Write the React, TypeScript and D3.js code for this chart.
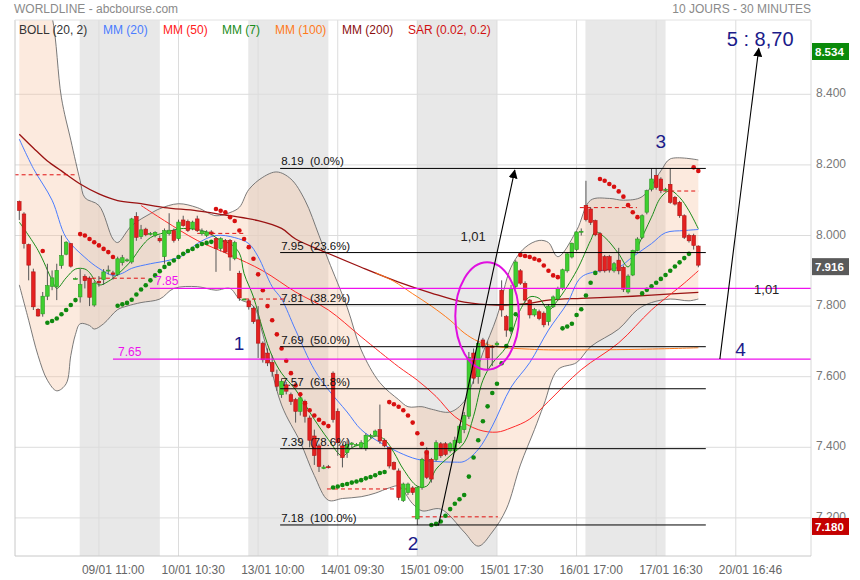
import React from "react";
import * as d3 from "d3";

// ---------- DATA ----------
// [open, high, low, close] for each 30-minute candle
const ohlc: number[][] = [
  [8.096, 8.099, 8.044, 8.071], [8.061, 8.066, 7.963, 7.977], [7.974, 7.977, 7.873, 7.916], [7.897, 7.906, 7.789, 7.798],
  [7.791, 7.794, 7.77, 7.772], [7.778, 7.84, 7.77, 7.828], [7.828, 7.92, 7.817, 7.858], [7.856, 7.901, 7.845, 7.88],
  [7.855, 7.92, 7.817, 7.901], [7.915, 8.0, 7.906, 7.943], [7.947, 7.984, 7.944, 7.981], [7.977, 7.978, 7.909, 7.913],
  [7.878, 7.881, 7.876, 7.878], [7.826, 7.905, 7.81, 7.861], [7.884, 7.89, 7.85, 7.872], [7.879, 7.884, 7.8, 7.825],
  [7.803, 7.87, 7.798, 7.865], [7.87, 7.885, 7.855, 7.866], [7.875, 7.905, 7.86, 7.897], [7.9, 7.915, 7.89, 7.902],
  [7.894, 7.9, 7.875, 7.89], [7.89, 7.94, 7.885, 7.934], [7.923, 7.945, 7.915, 7.937], [7.93, 7.935, 7.925, 7.931],
  [7.925, 8.05, 7.92, 8.047], [8.054, 8.066, 7.985, 7.995], [7.997, 8.03, 7.99, 8.016], [8.018, 8.022, 7.998, 8.002],
  [8.005, 8.01, 8.0, 8.006], [8.0, 8.012, 7.995, 8.009], [7.992, 8.0, 7.98, 7.985], [7.94, 8.02, 7.92, 8.014],
  [8.005, 8.063, 8.0, 8.015], [8.014, 8.02, 7.98, 7.986], [7.991, 8.045, 7.985, 8.038], [8.044, 8.056, 8.025, 8.028],
  [8.04, 8.045, 8.01, 8.014], [8.019, 8.042, 8.015, 8.038], [8.047, 8.056, 8.01, 8.014], [8.005, 8.02, 8.0, 8.012],
  [8.0, 8.015, 7.995, 8.01], [8.01, 8.015, 8.0, 8.004], [7.991, 7.995, 7.897, 7.963], [7.963, 7.995, 7.955, 7.991],
  [7.986, 7.99, 7.95, 7.953], [7.986, 7.99, 7.9, 7.939], [7.935, 7.985, 7.93, 7.98], [7.893, 7.9, 7.815, 7.823],
  [7.82, 7.822, 7.818, 7.82], [7.815, 7.82, 7.79, 7.798], [7.794, 7.8, 7.75, 7.756], [7.761, 7.8, 7.653, 7.695],
  [7.695, 7.7, 7.64, 7.648], [7.667, 7.68, 7.63, 7.639], [7.64, 7.66, 7.6, 7.615], [7.606, 7.62, 7.56, 7.573],
  [7.549, 7.595, 7.54, 7.587], [7.577, 7.585, 7.55, 7.559], [7.549, 7.555, 7.52, 7.53], [7.535, 7.54, 7.47, 7.502],
  [7.502, 7.545, 7.49, 7.54], [7.53, 7.535, 7.47, 7.488], [7.483, 7.49, 7.4, 7.42], [7.432, 7.45, 7.35, 7.377],
  [7.404, 7.41, 7.33, 7.346], [7.34, 7.35, 7.338, 7.344], [7.345, 7.35, 7.34, 7.343], [7.61, 7.615, 7.47, 7.479],
  [7.502, 7.51, 7.376, 7.413], [7.404, 7.41, 7.343, 7.371], [7.385, 7.42, 7.37, 7.408], [7.408, 7.415, 7.4, 7.412],
  [7.408, 7.412, 7.404, 7.408], [7.4, 7.42, 7.395, 7.413], [7.396, 7.44, 7.39, 7.434], [7.43, 7.438, 7.425, 7.434],
  [7.434, 7.45, 7.43, 7.446], [7.45, 7.521, 7.41, 7.418], [7.42, 7.425, 7.4, 7.404], [7.399, 7.4, 7.34, 7.347],
  [7.357, 7.36, 7.335, 7.338], [7.333, 7.34, 7.25, 7.258], [7.249, 7.3, 7.245, 7.296], [7.272, 7.3, 7.265, 7.296],
  [7.285, 7.29, 7.265, 7.272], [7.197, 7.29, 7.18, 7.286], [7.286, 7.37, 7.28, 7.366], [7.39, 7.4, 7.31, 7.315],
  [7.366, 7.37, 7.3, 7.31], [7.366, 7.42, 7.36, 7.413], [7.41, 7.415, 7.37, 7.376], [7.41, 7.415, 7.375, 7.38],
  [7.39, 7.415, 7.385, 7.41], [7.39, 7.43, 7.385, 7.42], [7.413, 7.465, 7.41, 7.46], [7.45, 7.5, 7.44, 7.49],
  [7.488, 7.67, 7.48, 7.655], [7.667, 7.68, 7.58, 7.596], [7.6, 7.7, 7.58, 7.694], [7.704, 7.71, 7.68, 7.686],
  [7.686, 7.7, 7.62, 7.653], [7.686, 7.69, 7.63, 7.684], [7.69, 7.7, 7.685, 7.695], [7.845, 7.873, 7.77, 7.789],
  [7.77, 7.775, 7.713, 7.732], [7.737, 7.86, 7.72, 7.85], [7.855, 7.93, 7.85, 7.925], [7.9, 7.905, 7.86, 7.865],
  [7.864, 7.87, 7.81, 7.817], [7.817, 7.82, 7.765, 7.775], [7.775, 7.795, 7.77, 7.79], [7.784, 7.79, 7.76, 7.765],
  [7.78, 7.785, 7.74, 7.747], [7.756, 7.805, 7.745, 7.8], [7.798, 7.83, 7.795, 7.826], [7.82, 7.855, 7.815, 7.85],
  [7.85, 7.906, 7.845, 7.903], [7.9, 7.95, 7.895, 7.948], [7.939, 7.98, 7.935, 7.978], [7.96, 8.012, 7.955, 8.01],
  [8.01, 8.02, 8.0, 8.012], [8.085, 8.155, 8.04, 8.045], [8.075, 8.08, 8.03, 8.037], [8.042, 8.045, 7.998, 8.002],
  [8.005, 8.01, 7.895, 7.9], [7.94, 7.945, 7.895, 7.9], [7.94, 7.945, 7.895, 7.902], [7.9, 7.925, 7.895, 7.92],
  [7.93, 7.965, 7.89, 7.9], [7.91, 7.915, 7.84, 7.848], [7.84, 7.89, 7.835, 7.885], [7.888, 7.96, 7.885, 7.958],
  [7.958, 7.995, 7.955, 7.99], [7.995, 8.06, 7.99, 8.056], [8.066, 8.13, 8.06, 8.127], [8.131, 8.19, 8.125, 8.16],
  [8.17, 8.19, 8.13, 8.136], [8.16, 8.165, 8.12, 8.127], [8.13, 8.135, 8.125, 8.131], [8.145, 8.19, 8.09, 8.094],
  [8.108, 8.112, 8.085, 8.089], [8.094, 8.098, 8.05, 8.056], [8.056, 8.06, 7.99, 7.995], [8.0, 8.005, 7.98, 7.985],
  [8.0, 8.005, 7.96, 7.972], [7.97, 7.972, 7.91, 7.916],
];

// indicator readings: [candle index, value]
const bollUpper: number[][] = [
  [0, 8.85], [4, 8.75], [7, 8.62], [9, 8.39], [11, 8.27], [13, 8.155], [14, 8.107], [17, 8.085], [20, 7.99], [21, 7.98],
  [24, 8.028], [28, 8.062], [30, 8.076], [34, 8.09], [38, 8.079], [42, 8.056], [45, 8.065], [47, 8.08], [49, 8.13],
  [52, 8.165], [55, 8.18], [58, 8.16], [61, 8.1], [64, 8.0], [66, 7.93], [70, 7.797], [73, 7.676], [77, 7.583],
  [81, 7.535], [83, 7.515], [86, 7.515], [88, 7.508], [92, 7.5], [95, 7.53], [97, 7.59], [99, 7.668], [102, 7.77],
  [105, 7.91], [108, 7.966], [111, 7.986], [113, 7.98], [115, 7.94], [119, 8.014], [122, 8.1], [126, 8.105],
  [129, 8.1], [133, 8.11], [137, 8.183], [139, 8.217], [145, 8.214],
];
const bollLower: number[][] = [
  [0, 7.86], [2, 7.76], [4, 7.66], [6, 7.59], [8, 7.56], [10, 7.58], [11, 7.66], [12, 7.72], [13, 7.75], [15, 7.745],
  [16, 7.735], [18, 7.75], [21, 7.79], [23, 7.8], [26, 7.81], [30, 7.82], [33, 7.85], [38, 7.855], [42, 7.845],
  [45, 7.85], [47, 7.82], [50, 7.8], [52, 7.72], [56, 7.52], [60, 7.415], [63, 7.32], [66, 7.25], [69, 7.255],
  [73, 7.26], [76, 7.27], [79, 7.285], [81, 7.29], [84, 7.24], [86, 7.22], [90, 7.225], [95, 7.16], [98, 7.12],
  [101, 7.16], [104, 7.225], [107, 7.35], [110, 7.45], [112, 7.52], [115, 7.62], [119, 7.64], [122, 7.685],
  [128, 7.735], [132, 7.79], [135, 7.81], [139, 7.82], [143, 7.815], [145, 7.82],
];
const mm20: number[][] = [
  [0, 8.273], [3, 8.19], [7, 8.1], [10, 7.994], [14, 7.938], [17, 7.907], [20, 7.887], [22, 7.893], [24, 7.907],
  [28, 7.92], [32, 7.93], [35, 7.944], [38, 7.977], [42, 8.0], [46, 7.994], [49, 7.977], [51, 7.94], [54, 7.855],
  [56, 7.82], [59, 7.732], [63, 7.62], [66, 7.563], [70, 7.5], [73, 7.45], [77, 7.414], [81, 7.386], [85, 7.366],
  [89, 7.36], [93, 7.358], [95, 7.36], [98, 7.394], [101, 7.46], [105, 7.57], [109, 7.64], [113, 7.732],
  [117, 7.808], [120, 7.882], [124, 7.9], [128, 7.91], [131, 7.94], [135, 7.977], [138, 8.008], [142, 8.014], [145, 8.017],
];
const mm50: number[][] = [
  [26, 8.085], [31, 8.042], [38, 7.986], [45, 7.945], [52, 7.9], [59, 7.84], [66, 7.789], [73, 7.713], [81, 7.628],
  [85, 7.59], [89, 7.544], [93, 7.487], [98, 7.45], [102, 7.443], [105, 7.455], [109, 7.48], [113, 7.53], [120, 7.62],
  [128, 7.696], [135, 7.789], [142, 7.865], [145, 7.9],
];
const mm7: number[][] = [
  [0, 8.038], [4, 7.958], [7, 7.873], [8, 7.85], [10, 7.88], [12, 7.905], [14, 7.905], [15, 7.895], [17, 7.86],
  [19, 7.87], [21, 7.89], [24, 7.93], [26, 7.967], [28, 7.994], [31, 8.008], [35, 8.02], [40, 8.01], [43, 7.986],
  [45, 7.977], [47, 7.95], [48, 7.892], [50, 7.826], [52, 7.733], [54, 7.658], [56, 7.61], [59, 7.563], [63, 7.479],
  [66, 7.422], [69, 7.375], [71, 7.399], [74, 7.413], [76, 7.432], [78, 7.422], [80, 7.385], [82, 7.338], [85, 7.29],
  [87, 7.29], [89, 7.338], [92, 7.376], [95, 7.413], [97, 7.488], [99, 7.59], [101, 7.638], [104, 7.685],
  [107, 7.79], [109, 7.826], [111, 7.822], [113, 7.789], [115, 7.817], [119, 7.9], [122, 7.986], [123, 8.01],
  [125, 7.995], [128, 7.948], [130, 7.911], [132, 7.967], [135, 8.052], [137, 8.108], [139, 8.127], [141, 8.108],
  [143, 8.07], [145, 8.019],
];
const mm100: number[][] = [
  [76, 7.895], [80, 7.87], [84, 7.835], [88, 7.8], [92, 7.76], [95, 7.724], [98, 7.7], [102, 7.685], [109, 7.678],
  [113, 7.676], [120, 7.676], [130, 7.677], [140, 7.68], [145, 7.682],
];
const mm200: number[][] = [
  [0, 8.287], [3, 8.248], [6, 8.211], [9, 8.183], [13, 8.146], [17, 8.118], [21, 8.099], [26, 8.09], [31, 8.079],
  [38, 8.07], [45, 8.056], [51, 8.042], [56, 8.02], [59, 7.99], [66, 7.949], [73, 7.91], [81, 7.868], [88, 7.837],
  [95, 7.811], [102, 7.803], [109, 7.808], [113, 7.817], [120, 7.822], [128, 7.826], [135, 7.831], [145, 7.839],
];
const sarAbove: number[][] = [
  [5, 7.956], [13, 8.004], [14, 8.0], [15, 7.99], [16, 7.981], [17, 7.972], [18, 7.962], [19, 7.953], [20, 7.939],
  [42, 8.075], [43, 8.07], [44, 8.066], [45, 8.052], [46, 8.041], [47, 8.014], [48, 7.99], [49, 7.967], [50, 7.934],
  [51, 7.89], [52, 7.845], [53, 7.8], [54, 7.76], [55, 7.72], [56, 7.68], [57, 7.645], [58, 7.61], [59, 7.575],
  [60, 7.55], [61, 7.525], [62, 7.505], [63, 7.49], [64, 7.478], [65, 7.468], [66, 7.46],
  [79, 7.528], [80, 7.522], [81, 7.515], [82, 7.505], [83, 7.49], [84, 7.47], [85, 7.44], [86, 7.41], [87, 7.385],
  [107, 7.945], [108, 7.942], [109, 7.939], [110, 7.934], [111, 7.93], [112, 7.915], [113, 7.9], [114, 7.887], [115, 7.882],
  [124, 8.16], [125, 8.155], [126, 8.146], [127, 8.138], [128, 8.125], [129, 8.11], [130, 8.086], [131, 8.066], [132, 8.052],
  [144, 8.193], [145, 8.183],
];
const sarBelow: number[][] = [
  [6, 7.753], [7, 7.758], [8, 7.765], [9, 7.777], [10, 7.789], [11, 7.803], [12, 7.817],
  [21, 7.801], [22, 7.805], [23, 7.809], [24, 7.818], [25, 7.833], [26, 7.847], [27, 7.859], [28, 7.873], [29, 7.887],
  [30, 7.899], [31, 7.911], [32, 7.92], [33, 7.929], [34, 7.939], [35, 7.948], [36, 7.956], [37, 7.962], [38, 7.97],
  [39, 7.976], [40, 7.979], [41, 7.982],
  [67, 7.286], [68, 7.289], [69, 7.293], [70, 7.296], [71, 7.3], [72, 7.303], [73, 7.307], [74, 7.312], [75, 7.316],
  [76, 7.321], [77, 7.327], [78, 7.33],
  [88, 7.18], [89, 7.183], [90, 7.19], [91, 7.206], [92, 7.225], [93, 7.24], [94, 7.253], [95, 7.265], [96, 7.317],
  [97, 7.371], [98, 7.42], [99, 7.474], [100, 7.516], [101, 7.554], [102, 7.58], [103, 7.638], [104, 7.687],
  [105, 7.734], [106, 7.777],
  [116, 7.737], [117, 7.742], [118, 7.75], [119, 7.775], [120, 7.791], [121, 7.83], [122, 7.866], [123, 7.894],
  [133, 7.836], [134, 7.846], [135, 7.856], [136, 7.866], [137, 7.877], [138, 7.888], [139, 7.9], [140, 7.912],
  [141, 7.924], [142, 7.936], [143, 7.948],
];
// red dashed reference levels: [from index, to index, price]
const dashedLevels: number[][] = [
  [-1, 12.3, 8.172], [14, 27.3, 7.879], [38, 48.2, 8.006], [48.2, 56.7, 7.82], [65.7, 84.5, 7.282],
  [83.8, 102.2, 7.203], [119.7, 131.9, 8.079], [137.5, 145, 8.126],
];
const fibHigh = 8.19;
const fibLow = 7.18;
const fibRatios = [0, 0.236, 0.382, 0.5, 0.618, 0.786, 1];
const fibLabels = ["8.19  (0.0%)", "7.95  (23.6%)", "7.81  (38.2%)", "7.69  (50.0%)", "7.57  (61.8%)", "7.39  (78.6%)", "7.18  (100.0%)"];
const fibSpan = [55.7, 146.6];
const magentaLevels = [7.65, 7.85];
const magentaStart = [20, 27.9];
const magentaLabels = ["7.65", "7.85"];
const priceTicks = [7.2, 7.4, 7.6, 7.8, 8.0, 8.2, 8.4];
const timeTickIdx = [17, 34, 51, 68, 85, 102, 119, 136, 153];
const timeTickLabels = ["09/01 11:00", "10/01 10:30", "13/01 10:00", "14/01 09:30", "15/01 09:00", "15/01 17:30", "16/01 17:00", "17/01 16:30", "20/01 16:46"];
const shadedDayStart = [13, 49, 85, 121];
const shadedDayLen = 17;
const legendNames = ["BOLL (20, 2)", "MM (20)", "MM (50)", "MM (7)", "MM (100)", "MM (200)", "SAR (0.02, 0.2)"];
const legendColors = ["#333333", "#4a7cff", "#ff2020", "#1a8c1a", "#ff7a1a", "#8b1010", "#d01010"];
const priceBoxes = [8.534, 7.916, 7.18];
const priceBoxColors = ["#0a8a0a", "#5a5a5a", "#c40000"];
// arrows: [fromIdx, fromPrice, toIdx, toPrice]
const arrows: number[][] = [[89.5, 7.178, 105.8, 8.185], [149.6, 7.65, 157.9, 8.53]];
const ellipse = { idx: 99.9, price: 7.772, rIdx: 6.8, rPrice: 0.152 };
const notesText = ["1", "2", "3", "4", "5 : 8,70", "1,01", "1,01"];
const notesIdx = [46.9, 84.1, 137, 154, 158.2, 96.9, 159.6];
const notesPrice = [7.676, 7.109, 8.248, 7.659, 8.537, 7.984, 7.834];
const notesBig = [true, true, true, true, true, false, false];

// ---------- CHART ----------
const FONT = "'Liberation Sans', Arial, sans-serif";
const PL = 15, PR = 811, PT = 20, PB = 556;

export default function App() {
  const x = d3.scaleLinear().domain([0, 145]).range([19.3, 19.3 + 4.683 * 145]);
  const y = d3.scaleLinear().domain([7, 8.6]).range([235.5 + 353, 235.5 - 0.6 * 353]);
  const line = d3
    .line<number[]>()
    .x((d) => x(d[0]))
    .y((d) => y(d[1]))
    .curve(d3.curveCatmullRom.alpha(0.5));

  const upPath = line(bollUpper) || "";
  const loRev = line([...bollLower].reverse()) || "";
  const bandFill = upPath + "L" + loRev.slice(1) + "Z";

  const navy = "#1b1b8a";

  return (
    <svg
      width={860}
      height={580}
      style={{ position: "absolute", left: 0, top: 0, background: "#fff" }}
      fontFamily={FONT}
    >
      <defs>
        <clipPath id="plot">
          <rect x={PL} y={PT} width={PR - PL} height={PB - PT} />
        </clipPath>
        <marker id="arrowhead" viewBox="0 0 10 10" refX="9" refY="5" markerWidth="9" markerHeight="9" orient="auto" markerUnits="userSpaceOnUse">
          <path d="M0,0 L10,5 L0,10 Z" fill="#000" />
        </marker>
      </defs>
      <rect x={0} y={0} width={860} height={580} fill="#fff" />

      <g clipPath="url(#plot)">
        {shadedDayStart.map((s, i) => (
          <rect key={i} x={x(s) - 0.5} y={PT} width={x(s + shadedDayLen) - x(s) + 0.5} height={PB - PT} fill="#e8e8e8" />
        ))}
        {priceTicks.map((t, i) => (
          <line key={i} x1={PL} x2={PR} y1={y(t)} y2={y(t)} stroke="#dcdcdc" strokeWidth={1} />
        ))}
        {timeTickIdx.map((t, i) => (
          <line key={i} x1={x(t)} x2={x(t)} y1={PT} y2={PB} stroke="#dcdcdc" strokeWidth={1} />
        ))}

        <path d={bandFill} fill="#f5bf9c" fillOpacity={0.33} stroke="none" />
        <path d={upPath} fill="none" stroke="#6b6b6b" strokeWidth={0.9} />
        <path d={line(bollLower) || ""} fill="none" stroke="#6b6b6b" strokeWidth={0.9} />

        <path d={line(mm200) || ""} fill="none" stroke="#9a1212" strokeWidth={1.3} />
        <path d={line(mm100) || ""} fill="none" stroke="#ff7a1a" strokeWidth={1} />
        <path d={line(mm50) || ""} fill="none" stroke="#ff2a2a" strokeWidth={1} />
        <path d={line(mm20) || ""} fill="none" stroke="#4a7cff" strokeWidth={1} />
        <path d={line(mm7) || ""} fill="none" stroke="#1a8c1a" strokeWidth={1} />

        {dashedLevels.map((d, i) => (
          <line key={i} x1={x(d[0])} x2={x(d[1])} y1={y(d[2])} y2={y(d[2])} stroke="#e01010" strokeWidth={1} strokeDasharray="4,3" />
        ))}

        {ohlc.map((c, i) => {
          const [o, h, l, cl] = c;
          const up = cl >= o;
          const cx = x(i);
          const top = y(Math.max(o, cl));
          const bot = y(Math.min(o, cl));
          const bh = Math.max(1, bot - top);
          return (
            <g key={i}>
              <line x1={cx} x2={cx} y1={y(h)} y2={y(l)} stroke="#555" strokeWidth={1} />
              <rect
                x={cx - 1.8}
                y={top}
                width={3.6}
                height={bh}
                fill={up ? "#3fcf2f" : "#e42020"}
                stroke={up ? "#2a9a22" : "#b01212"}
                strokeWidth={0.6}
              />
            </g>
          );
        })}

        {sarAbove.map((d, i) => (
          <circle key={"a" + i} cx={x(d[0])} cy={y(d[1])} r={2.3} fill="#d81010" />
        ))}
        {sarBelow.map((d, i) => (
          <circle key={"b" + i} cx={x(d[0])} cy={y(d[1])} r={2.3} fill="#0f8a0f" />
        ))}

        {fibRatios.map((r, i) => {
          const v = fibHigh - (fibHigh - fibLow) * r;
          return (
            <g key={i}>
              <line x1={x(fibSpan[0])} x2={x(fibSpan[1])} y1={y(v)} y2={y(v)} stroke="#000" strokeWidth={1} />
              <text x={x(fibSpan[0]) + 1} y={y(v) - 3} fontSize={11.5} fill="#111" style={{ whiteSpace: "pre" }}>
                {fibLabels[i]}
              </text>
            </g>
          );
        })}

        {magentaLevels.map((v, i) => (
          <g key={i}>
            <line x1={x(magentaStart[i])} x2={PR} y1={y(v)} y2={y(v)} stroke="#ee10ee" strokeWidth={1.2} />
            <text x={x(magentaStart[i]) + 5} y={y(v) - 3} fontSize={12} fill="#ee10ee">
              {magentaLabels[i]}
            </text>
          </g>
        ))}

        <ellipse
          cx={x(ellipse.idx)}
          cy={y(ellipse.price)}
          rx={x(ellipse.idx + ellipse.rIdx) - x(ellipse.idx)}
          ry={y(ellipse.price - ellipse.rPrice) - y(ellipse.price)}
          fill="none"
          stroke="#e010e0"
          strokeWidth={2}
        />
      </g>

      {arrows.map((a, i) => (
        <line key={i} x1={x(a[0])} y1={y(a[1])} x2={x(a[2])} y2={y(a[3])} stroke="#000" strokeWidth={1.1} markerEnd="url(#arrowhead)" />
      ))}

      {notesText.map((t, i) => (
        <text
          key={i}
          x={x(notesIdx[i])}
          y={y(notesPrice[i])}
          textAnchor="middle"
          fontSize={notesBig[i] ? (t.length > 2 ? 20 : 19) : 13}
          fill={notesBig[i] ? navy : "#222"}
        >
          {t}
        </text>
      ))}

      {/* frame */}
      <line x1={PL} x2={PL} y1={PT} y2={PB} stroke="#c8c8c8" />
      <line x1={PR} x2={PR} y1={PT} y2={PB} stroke="#d8d8d8" />
      <line x1={PL} x2={PR} y1={PB} y2={PB} stroke="#c8c8c8" />
      <line x1={PL} x2={PR} y1={PT} y2={PT} stroke="#e2e2e2" />

      {/* titles */}
      <text x={14} y={13} fontSize={12} fill="#8a8a8a">WORLDLINE - abcbourse.com</text>
      <text x={PR} y={13} fontSize={12} fill="#8a8a8a" textAnchor="end">10 JOURS - 30 MINUTES</text>

      {/* legend */}
      {legendNames.map((n, i) => {
        const lx = [19, 103, 163, 222, 275, 342, 408][i];
        return (
          <text key={i} x={lx} y={34} fontSize={12} fill={legendColors[i]}>
            {n}
          </text>
        );
      })}

      {/* axes labels */}
      {priceTicks.map((t, i) => (
        <text key={i} x={816} y={y(t) + 3} fontSize={12} fill="#777">
          {t.toFixed(3)}
        </text>
      ))}
      {timeTickIdx.map((t, i) => (
        <text key={i} x={x(t) - 17} y={574} fontSize={12} fill="#666">
          {timeTickLabels[i]}
        </text>
      ))}

      {priceBoxes.map((v, i) => (
        <g key={i}>
          <rect x={812} y={y(v) - 8 + (i === 0 ? 4 : 1)} width={37} height={17} fill={priceBoxColors[i]} />
          <text x={815} y={y(v) + 5 + (i === 0 ? 4 : 1)} fontSize={11.5} fontWeight="bold" fill="#fff">
            {v.toFixed(3)}
          </text>
        </g>
      ))}
    </svg>
  );
}
